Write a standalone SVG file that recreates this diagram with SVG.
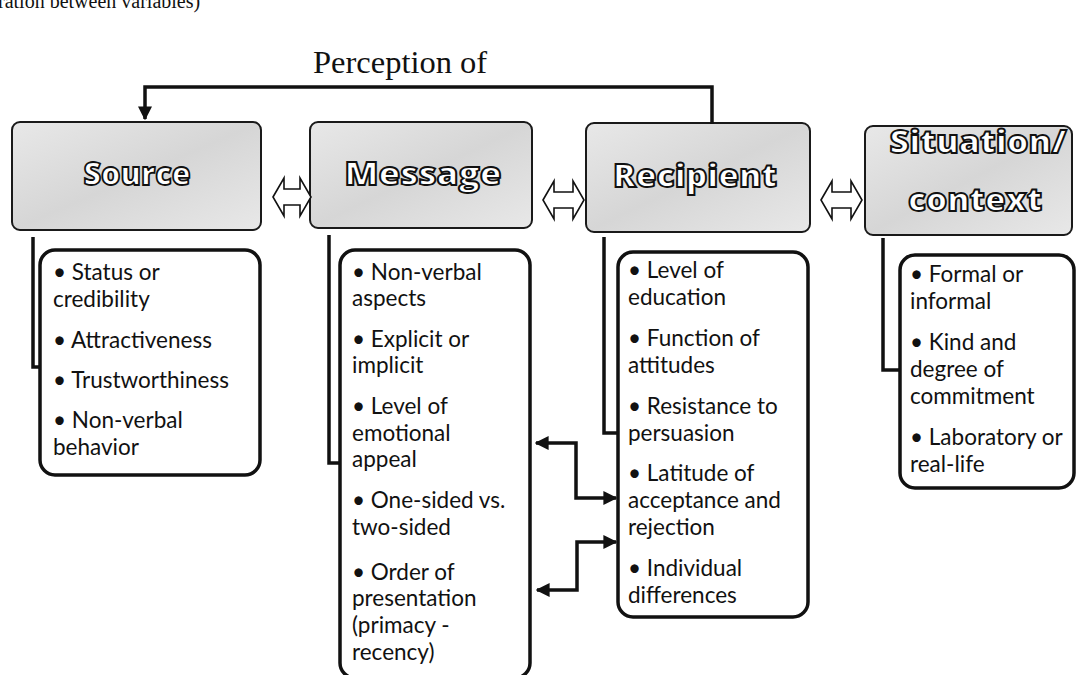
<svg xmlns="http://www.w3.org/2000/svg" width="1077" height="675" viewBox="0 0 1077 675">
<defs>
<style>
.hdr{stroke:#1a1a1a;stroke-width:2;fill:url(#gray)}
.cnt{fill:#fff;stroke:#111;stroke-width:3.5}
.ttl{font-family:"Open Sans","DejaVu Sans",sans-serif;font-weight:800;font-size:31px;fill:#fff;stroke:#111;stroke-width:1.8;text-anchor:middle}
.txt{font-family:Lato,"Open Sans",sans-serif;font-size:22.5px;fill:#111}
.ser{font-family:"Liberation Serif","Times New Roman",serif;fill:#111}
.brk{fill:none;stroke:#111;stroke-width:3.5}
.dbl{fill:#fff;stroke:#111;stroke-width:1.6}
.con{fill:none;stroke:#111;stroke-width:3.5}
</style>
<linearGradient id="gray" x1="0" y1="0" x2="1" y2="1">
<stop offset="0" stop-color="#e8e8e8"/>
<stop offset="0.5" stop-color="#d6d6d6"/>
<stop offset="1" stop-color="#e8e8e8"/>
</linearGradient>
<marker id="ah" viewBox="0 0 10 10" refX="9" refY="5" markerWidth="14" markerHeight="14" markerUnits="userSpaceOnUse" orient="auto-start-reverse">
<path d="M0,0 L10,5 L0,10 Z" fill="#111"/>
</marker>
</defs>
<text class="ser" x="-2" y="8" font-size="20">ration between variables)</text>
<text class="ser" x="313" y="73" font-size="32.5">Perception of</text>

<g id="source">
<rect class="hdr" x="12" y="122" width="249" height="108" rx="8"/>
<text class="ttl" x="137" y="185" textLength="107" lengthAdjust="spacingAndGlyphs">Source</text>
<rect class="cnt" x="40" y="250" width="220" height="225" rx="15"/>
<text class="txt" x="53" y="280">• Status or</text>
<text class="txt" x="53" y="307">credibility</text>
<text class="txt" x="53" y="348">• Attractiveness</text>
<text class="txt" x="53" y="388">• Trustworthiness</text>
<text class="txt" x="53" y="428">• Non-verbal</text>
<text class="txt" x="53" y="455">behavior</text>
</g>

<g id="message">
<rect class="hdr" x="310" y="122" width="222" height="106" rx="8"/>
<text class="ttl" x="423" y="185" textLength="157" lengthAdjust="spacingAndGlyphs">Message</text>
<rect class="cnt" x="340" y="250" width="190" height="428" rx="15"/>
<text class="txt" x="352" y="280">• Non-verbal</text>
<text class="txt" x="352" y="306">aspects</text>
<text class="txt" x="352" y="347">• Explicit or</text>
<text class="txt" x="352" y="373">implicit</text>
<text class="txt" x="352" y="414">• Level of</text>
<text class="txt" x="352" y="441">emotional</text>
<text class="txt" x="352" y="467">appeal</text>
<text class="txt" x="352" y="508">• One-sided vs.</text>
<text class="txt" x="352" y="535">two-sided</text>
<text class="txt" x="352" y="580">• Order of</text>
<text class="txt" x="352" y="606">presentation</text>
<text class="txt" x="352" y="633">(primacy -</text>
<text class="txt" x="352" y="660">recency)</text>
</g>

<g id="recipient">
<rect class="hdr" x="586" y="123" width="224" height="109" rx="8"/>
<text class="ttl" x="695" y="187" textLength="164" lengthAdjust="spacingAndGlyphs">Recipient</text>
<rect class="cnt" x="618" y="252" width="190" height="365" rx="15"/>
<text class="txt" x="628" y="278">• Level of</text>
<text class="txt" x="628" y="305">education</text>
<text class="txt" x="628" y="346">• Function of</text>
<text class="txt" x="628" y="373">attitudes</text>
<text class="txt" x="628" y="414">• Resistance to</text>
<text class="txt" x="628" y="441">persuasion</text>
<text class="txt" x="628" y="481">• Latitude of</text>
<text class="txt" x="628" y="508">acceptance and</text>
<text class="txt" x="628" y="535">rejection</text>
<text class="txt" x="628" y="576">• Individual</text>
<text class="txt" x="628" y="603">differences</text>
</g>

<g id="situation">
<rect class="hdr" x="865" y="126" width="207" height="109" rx="8"/>
<text class="ttl" x="978" y="153" textLength="177" lengthAdjust="spacingAndGlyphs">Situation/</text>
<text class="ttl" x="975" y="211" textLength="134" lengthAdjust="spacingAndGlyphs">context</text>
<rect class="cnt" x="900" y="255" width="174" height="233" rx="15"/>
<text class="txt" x="910" y="282">• Formal or</text>
<text class="txt" x="910" y="309">informal</text>
<text class="txt" x="910" y="350">• Kind and</text>
<text class="txt" x="910" y="377">degree of</text>
<text class="txt" x="910" y="404">commitment</text>
<text class="txt" x="910" y="445">• Laboratory or</text>
<text class="txt" x="910" y="472">real-life</text>
</g>

<g id="connectors">
<path class="brk" d="M33,237 V367 H40"/>
<path class="brk" d="M329,235 V463 H340"/>
<path class="brk" d="M604,237 V433 H618"/>
<path class="brk" d="M883,238 V370 H900"/>
<path class="con" d="M712,124 V87 H145 V119" marker-end="url(#ah)"/>
<path class="dbl" d="M273,197 L284,178 L284,189 L300,189 L300,178 L311,197 L300,216 L300,205 L284,205 L284,216 Z"/>
<path class="dbl" d="M543,200 L554,181 L554,192 L573,192 L573,181 L584,200 L573,219 L573,208 L554,208 L554,219 Z"/>
<path class="dbl" d="M821,200 L832,181 L832,192 L851,192 L851,181 L862,200 L851,219 L851,208 L832,208 L832,219 Z"/>
<path class="con" d="M536,443 H576 V498 H616" marker-start="url(#ah)" marker-end="url(#ah)"/>
<path class="con" d="M616,542 H577 V590 H537" marker-start="url(#ah)" marker-end="url(#ah)"/>
</g>
</svg>
